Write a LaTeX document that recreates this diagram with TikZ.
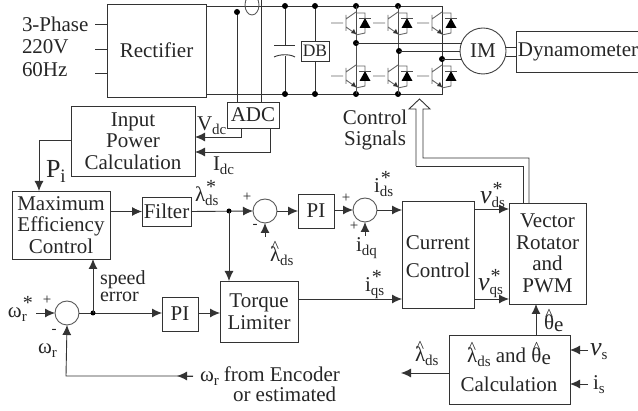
\documentclass[tikz,border=0pt]{standalone}
\usepackage{fontspec}
\setmainfont{Liberation Serif}
\usetikzlibrary{arrows.meta}
\newcommand\subs[1]{\raisebox{-4pt}{\fontsize{15}{15}\selectfont #1}}
\newcommand\subsup[2]{\rlap{\raisebox{-4pt}{\fontsize{15}{15}\selectfont #1}}\raisebox{8pt}{\hspace{1pt}\fontsize{20}{20}\selectfont #2}}
\newcommand\hatd[1]{\ooalign{#1\cr\hfil\raisebox{9pt}{\fontsize{17}{17}\selectfont\^{}}\hfil\cr}}
\newcommand\vit{\textit{\fontsize{26}{26}\selectfont v}}
\tikzset{
  x=1pt,y=-1pt,
  every node/.style={font=\fontsize{21}{21.5}\selectfont,inner sep=0pt,outer sep=0pt,text=black!85},
  box/.style={draw=black!80,line width=.9pt,align=center},
  sumc/.style={circle,draw=black!65,line width=.9pt,minimum size=24pt},
  wire/.style={draw=black!80,line width=.9pt},
  arr/.style={wire,-{Latex[length=10pt,width=9pt]}},
  dot/.style={circle,fill=black,minimum size=6pt},
  igbt/.pic={
    \draw[black!60,line width=.9pt] (-25,0)--(-13,0) (-10,-8)--(-10,8) (-10,-4)--(0,-11) (-10,4)--(0,11) (0,-10)--(9,-10)--(9,10)--(0,12);
    \fill[black!80] (0,11)--(-5,10)--(-2,6)--cycle;
    \fill[black] (9,-5)--(3.5,5)--(14.5,5)--cycle;
    \draw[black!70,line width=.9pt] (3,-5)--(15,-5);
  }
}
\begin{document}
\begin{tikzpicture}
\useasboundingbox (0,0) rectangle (638,411);
% blocks
\node[box,minimum width=99pt,minimum height=93pt] (rect) at (156.5,50.5) {Rectifier};
\node[box,minimum width=28pt,minimum height=20pt,font=\fontsize{17.5}{17.5}\selectfont] (db) at (315,51) {DB};
\node[box,minimum width=52pt,minimum height=26pt] (adc) at (253,115) {ADC};
\node[box,minimum width=124pt,minimum height=70pt] (ipc) at (133,141) {Input\\Power\\Calculation};
\node[box,minimum width=98pt,minimum height=68pt] (mec) at (61,225) {Maximum\\Efficiency\\Control};
\node[box,minimum width=49pt,minimum height=29pt] (filter) at (166.5,211.5) {Filter};
\node[sumc] (s1) at (265,211) {};
\node[box,minimum width=36pt,minimum height=34pt] (pi1) at (316,211) {PI};
\node[sumc] (s2) at (365,210) {};
\node[box,minimum width=72pt,minimum height=107pt] (cc) at (438,254.5) {};
\node at (438,243) {Current};
\node at (438,270) {Control};
\node[box,minimum width=77pt,minimum height=101pt] (vr) at (547.5,253.5) {Vector\\Rotator\\and\\PWM};
\node[box,minimum width=78pt,minimum height=61pt] (tl) at (259,311.5) {Torque\\Limiter};
\node[box,minimum width=36pt,minimum height=34pt] (pi2) at (180,314) {PI};
\node[sumc] (s3) at (67,313) {};
\node[box,minimum width=121pt,minimum height=69pt] (calc) at (509.5,369.5) {};
\node at (509,357) {\hatd{λ}\subs{ds} and \hatd{θ}\raisebox{-2pt}{e}};
\node at (509,384) {Calculation};
\node[draw=black!75,line width=.9pt,circle,minimum size=46pt] (im) at (483,51) {IM};
\node[box,minimum width=124pt,minimum height=41pt] (dyn) at (578,51.5) {Dynamometer};
% free coordinates
\coordinate (i1) at (95,24); \coordinate (i2) at (95,49); \coordinate (i3) at (95,73);
\coordinate (bt) at (442,6); \coordinate (bb) at (442,94);
\coordinate (j1) at (229,211);
\coordinate (j2) at (93,313);
\coordinate (vs) at (588,350); \coordinate (is) at (588,384);
\coordinate (enc) at (193,376);
\coordinate (lh) at (401,373);
\coordinate (wrs) at (36,313);
\coordinate (lh2) at (265,237);
\coordinate (idq) at (365,236);
% input lines
\draw[wire] (i1)--(i1-|rect.west) (i2)--(i2-|rect.west) (i3)--(i3-|rect.west);
\node[anchor=base west] at (22,32) {3-Phase};
\node[anchor=base west] at (22,54) {220V};
\node[anchor=base west] at (22,77) {60Hz};
% DC bus
\draw[wire] (206,6)--(bt) (206,94)--(bb)--(442,6);
\draw[wire] (237,12)--(237,102);
\node[dot] at (237,12) {};
\draw[wire] (261,0)--(261,102);
\draw[black!65,line width=.9pt] (252,5) ellipse [x radius=7,y radius=10];
\draw[wire] (285,6)--(285,45) (285,56)--(285,94);
\draw[wire] (274,45)--(295,45);
\draw[wire] (274,57) .. controls (280,54) and (290,54) .. (295,57);
\draw[wire] (db.north)--(315,6) (db.south)--(315,94);
\foreach \p in {285,315,356,398}{\node[dot] at (\p,6) {};\node[dot] at (\p,94) {};}
% bridge
\draw[black!70,line width=.9pt] (356,6)--(356,94) (398,6)--(398,94);
\foreach \p in {356,398,442}{\pic at (\p,23) {igbt};\pic at (\p,76) {igbt};}
\node[dot] at (356,43) {}; \node[dot] at (399,51) {}; \node[dot] at (442,59) {};
\draw[wire] (356,43)--(462,43) (399,51)--(460,51) (442,59)--(462,59);
\draw[wire] (506,47)--(516,47) (506,56)--(516,56);
% control signals
\draw[wire,fill=white] (416,166)--(416,109)--(409,109)--(419.5,99)--(430,109)--(423,109)--(423,158)--(529,158)--(529,203);
\draw[wire] (416,166)--(523,166)--(523,203);
\node at (375,117) {Control};
\node at (375,140) {Signals};
% feedback ADC
\draw[arr] (241,128)--(241,137)--(195,137);
\draw[arr] (270,128)--(270,152)--(195,152);
\node[anchor=base west] at (197,131) {V\subs{dc}};
\node[anchor=base west] at (213,171) {I\subs{dc}};
\draw[arr] (ipc.west|-0,140)--(39,140)--(39,191);
\node[anchor=base west,font=\fontsize{26}{26}\selectfont] at (46,178) {P\raisebox{-5pt}{\fontsize{19}{19}\selectfont i}};
% forward path
\draw[arr] (mec.east|-filter.west)--(filter.west);
\draw[arr] (filter.east)--(s1.west);
\node[dot,minimum size=5pt] at (j1) {};
\node[anchor=base west] at (195,202) {λ\subsup{ds}{*}};
\node at (247,197) {\fontsize{15}{15}\selectfont +};
\node at (255,226) {\fontsize{15}{15}\selectfont -};
\draw[arr] (lh2)--(s1.south);
\node[anchor=base west] at (270,262) {\hatd{λ}\subs{ds}};
\draw[arr] (s1.east)--(pi1.west);
\draw[arr] (pi1.east|-s2.west)--(s2.west);
\node at (346,198) {\fontsize{15}{15}\selectfont +};
\node at (354,226) {\fontsize{15}{15}\selectfont +};
\draw[arr] (idq)--(s2.south);
\node[anchor=base west] at (356,252) {i\subs{dq}};
\draw[arr] (s2.east)--(s2.east-|cc.west);
\node[anchor=base west] at (374,193) {i\subsup{ds}{*}};
\draw[arr] (cc.east|-0,209)--(vr.west|-0,209);
\node[anchor=base west] at (480,204) {\vit\subsup{ds}{*}};
\draw[arr] (cc.east|-0,299)--(vr.west|-0,299);
\node[anchor=base west] at (478,291) {\vit\subsup{qs}{*}};
\draw[arr] (tl.east|-0,299)--(cc.west|-0,299);
\node[anchor=base west] at (365,292) {i\subsup{qs}{*}};
\draw[arr] (j1)--(j1|-tl.north);
% speed loop
\draw[arr] (wrs)--(s3.west);
\node[anchor=base west] at (8,318) {ω\subsup{r}{*}};
\node at (47,300) {\fontsize{15}{15}\selectfont +};
\node at (54,331) {\fontsize{15}{15}\selectfont -};
\draw[wire] (s3.east)--(j2);
\draw[arr] (j2)--(pi2.west|-j2);
\node[dot,minimum size=5pt] at (j2) {};
\draw[arr] (j2)--(j2|-mec.south);
\node[anchor=base west,font=\fontsize{20}{20}\selectfont] at (100,285) {speed};
\node[anchor=base west,font=\fontsize{20}{20}\selectfont] at (100,302) {error};
\draw[arr] (pi2.east|-0,313)--(tl.west|-0,313);
\draw[arr] (enc)--(66,376)--(s3.south);
\draw[arr] (193,376)--(177,376);
\node[anchor=base west] at (38,354) {ω\subs{r}};
\node[anchor=base west] at (200,382) {ω\subs{r}\hspace{5pt}from Encoder};
\node[anchor=base west] at (233,402) {or estimated};
% estimator
\draw[arr] (calc.north-|536,0)--(vr.south-|536,0);
\node[anchor=base west] at (544,330) {\hatd{θ}\raisebox{-2pt}{e}};
\draw[arr] (vs)--(vs-|calc.east);
\draw[arr] (is)--(is-|calc.east);
\node[anchor=base west] at (590,356) {\textit{\fontsize{26}{26}\selectfont v}\subs{s}};
\node[anchor=base west] at (593,390) {i\subs{s}};
\draw[arr] (calc.west|-lh)--(lh);
\node[anchor=base west] at (415,362) {\hatd{λ}\subs{ds}};
\end{tikzpicture}
\end{document}
